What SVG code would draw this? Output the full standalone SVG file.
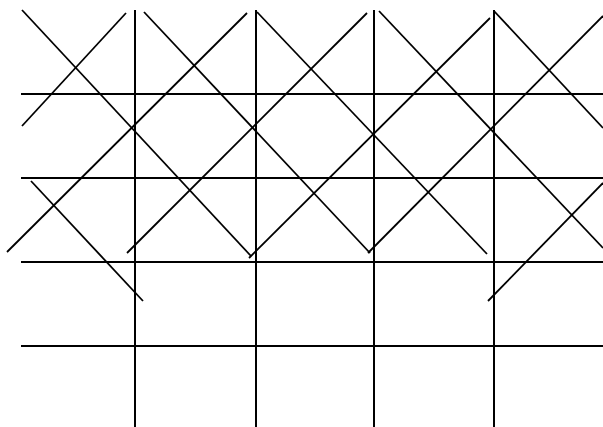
<svg xmlns="http://www.w3.org/2000/svg" width="603" height="427" viewBox="0 0 603 427">
  <style>
    .grid { stroke: #000; stroke-width: 2; fill: none; }
    .diag { stroke: #000; stroke-width: 1.8; fill: none; stroke-linecap: butt; }
  </style>
  <rect x="0" y="0" width="603" height="427" fill="#fff"/>
  <g id="grid-vertical">
    <line class="grid" x1="135" y1="10" x2="135" y2="427"/>
    <line class="grid" x1="256" y1="10" x2="256" y2="427"/>
    <line class="grid" x1="374" y1="10" x2="374" y2="427"/>
    <line class="grid" x1="494" y1="10" x2="494" y2="427"/>
  </g>
  <g id="grid-horizontal">
    <line class="grid" x1="21" y1="94" x2="603" y2="94"/>
    <line class="grid" x1="21" y1="178" x2="603" y2="178"/>
    <line class="grid" x1="21" y1="262" x2="603" y2="262"/>
    <line class="grid" x1="21" y1="346" x2="603" y2="346"/>
  </g>
  <g id="diagonals">
    <line class="diag" x1="22" y1="10" x2="251" y2="256"/>
    <line class="diag" x1="22" y1="126" x2="126" y2="13"/>
    <line class="diag" x1="7" y1="252" x2="247" y2="13"/>
    <line class="diag" x1="31" y1="181" x2="143" y2="301"/>
    <line class="diag" x1="144" y1="12" x2="370" y2="253"/>
    <line class="diag" x1="127" y1="253" x2="367" y2="13"/>
    <line class="diag" x1="257" y1="12" x2="487" y2="254"/>
    <line class="diag" x1="249" y1="258" x2="490" y2="18"/>
    <line class="diag" x1="379" y1="11" x2="603" y2="248"/>
    <line class="diag" x1="368" y1="253" x2="603" y2="16"/>
    <line class="diag" x1="494" y1="11" x2="603" y2="128"/>
    <line class="diag" x1="488" y1="301" x2="603" y2="183"/>
  </g>
</svg>
